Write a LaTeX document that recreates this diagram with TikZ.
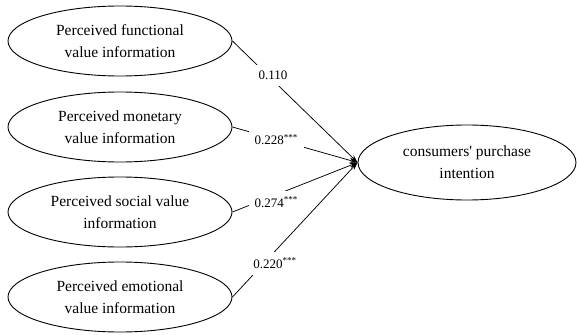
\documentclass[tikz,border=0pt]{standalone}
\usepackage{fontspec}
\setmainfont{Liberation Serif}
\usetikzlibrary{shapes.geometric,arrows.meta}

\begin{document}
\begin{tikzpicture}[x=1pt,y=-1pt,
  construct/.style={ellipse,draw,line width=0.9pt,minimum width=224pt,minimum height=70pt,
    inner sep=0pt,align=center,font=\fontsize{15.5}{22}\selectfont},
  outcome/.style={construct,minimum width=218pt,minimum height=75pt},
  path/.style={line width=0.75pt,-{Stealth[length=8pt,width=5pt]}},
  coef/.style={fill=white,inner sep=6pt,font=\fontsize{13}{15}\selectfont}]
\useasboundingbox (0,0) rectangle (577,334);

% exogenous constructs
\node[construct] (fv) at (120,41)  {Perceived functional\\value information};
\node[construct] (mv) at (120,127) {Perceived monetary\\value information};
\node[construct] (sv) at (120,212) {Perceived social value\\information};
\node[construct] (ev) at (120,297) {Perceived emotional\\value information};

% endogenous construct
\node[outcome] (pi) at (467,162.5) {consumers\textquotesingle\ purchase\\intention};

% structural paths with standardized coefficients
\draw[path] (fv.east) -- node[coef,pos=0.325,yshift=5pt] {0.110} (pi.west);
\draw[path] (mv.east) -- node[coef,pos=0.35] {0.228\textsuperscript{***}} (pi.west);
\draw[path] (sv.east) -- node[coef,pos=0.35,yshift=-7.5pt] {0.274\textsuperscript{***}} (pi.west);
\draw[path] (ev.east) -- node[coef,pos=0.34,yshift=-12pt] {0.220\textsuperscript{***}} (pi.west);
\end{tikzpicture}
\end{document}
